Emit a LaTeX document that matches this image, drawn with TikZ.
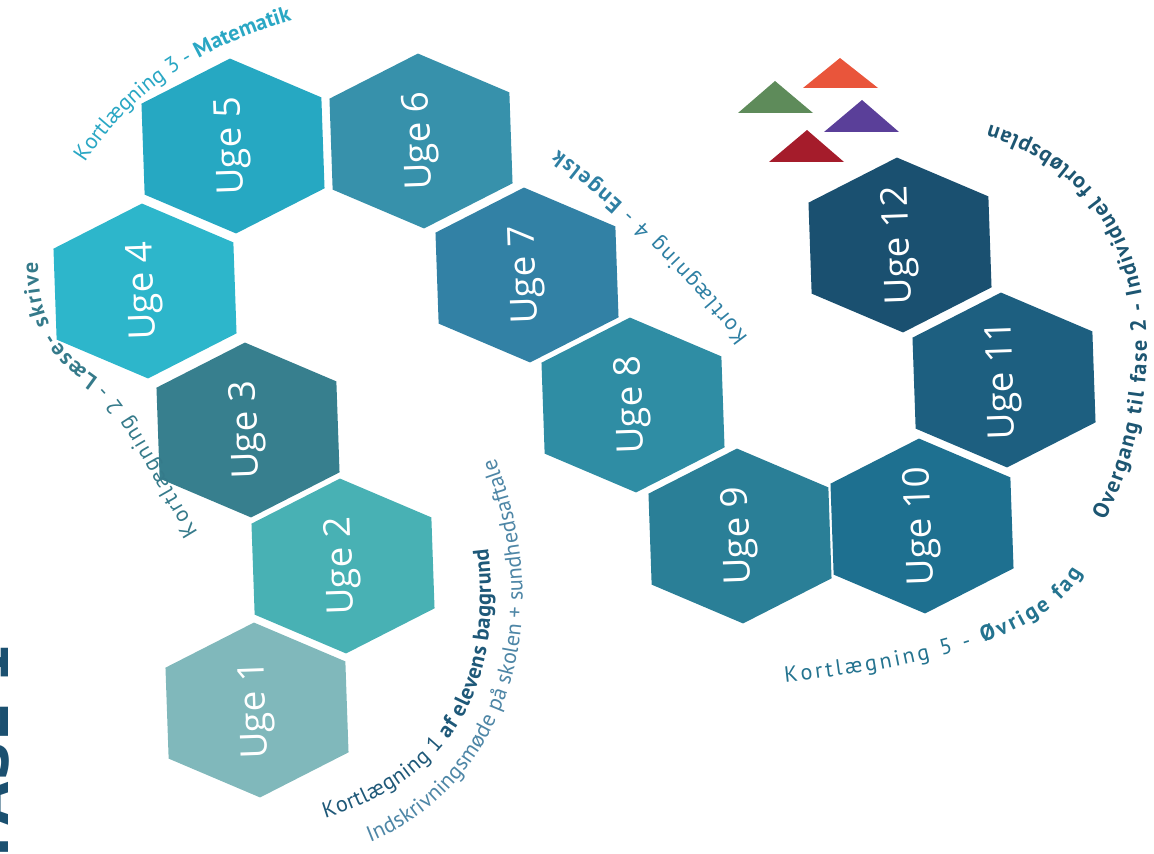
\documentclass[tikz,border=0pt]{standalone}
\usepackage{fontspec}
\setmainfont{Open Sans}
\newfontfamily\arcfont{PT Sans}
\newfontfamily\fasefont{DejaVu Sans}
\usetikzlibrary{decorations.text}

\definecolor{uge1}{HTML}{80B8BB}
\definecolor{uge2}{HTML}{48B1B4}
\definecolor{uge3}{HTML}{377F8E}
\definecolor{uge4}{HTML}{2DB6CB}
\definecolor{uge5}{HTML}{26A8C2}
\definecolor{uge6}{HTML}{3791AB}
\definecolor{uge7}{HTML}{3281A5}
\definecolor{uge8}{HTML}{2F8DA4}
\definecolor{uge9}{HTML}{2A7F97}
\definecolor{uge10}{HTML}{1E7090}
\definecolor{uge11}{HTML}{1D5F80}
\definecolor{uge12}{HTML}{1A5070}
\definecolor{trigreen}{HTML}{5E8B5A}
\definecolor{triorange}{HTML}{E9553B}
\definecolor{tripurple}{HTML}{5A3F99}
\definecolor{trired}{HTML}{A51C2B}
\definecolor{fasecolor}{HTML}{1B5070}
\definecolor{arcone}{HTML}{1E5878}
\definecolor{arconeb}{HTML}{4E86A6}
\definecolor{arctwo}{HTML}{357A8A}
\definecolor{arcthree}{HTML}{2AA7C4}
\definecolor{arcfour}{HTML}{2E7FA3}
\definecolor{arcfive}{HTML}{24738F}
\definecolor{arcsix}{HTML}{1D5672}

\tikzset{
  weektext/.style={rotate=92, text=white, inner sep=0pt, font=\fontsize{10.5}{12}\selectfont},
  arctext/.style={decorate, decoration={text along path, text align={fit to path}, text color=#1}},
  fasetext/.style={rotate=90, anchor=base west, inner sep=0pt, text=fasecolor, font=\fasefont\bfseries\fontsize{16}{18}\selectfont}
}

\begin{document}
\begin{tikzpicture}[x=0.1mm, y=-0.1mm]
    \useasboundingbox (0,0) rectangle (1154,854);
    \clip (0,0) rectangle (1154,854);
    \foreach \n/\x/\y in {1/257/710, 2/343/566, 3/248/430, 4/145/291, 5/233/146, 6/421/141,
                          7/527/275, 8/633/405, 9/740/536, 10/922/526, 11/1004/380, 12/900/245} {
        \fill[uge\n, shift={(\x,\y)}, rotate=2] (0,-87.5) -- (90,-45.5) -- (90,45.5) -- (0,87.5) -- (-90,45.5) -- (-90,-45.5) -- cycle;
        \node[weektext] (uge\n) at (\x,\y) {Uge \n};
    }
    \fill[trigreen] (775,81) -- (738,113) -- (813,113) -- cycle;
    \fill[triorange] (840,58) -- (803,88) -- (878,88) -- cycle;
    \fill[tripurple] (862,100) -- (824,132) -- (899,132) -- cycle;
    \fill[trired] (807,130) -- (769,162) -- (844,162) -- cycle;
    \node[fasetext] (fase) at (8,858) {FASE 1};
    \path[arctext=arcone, decoration={text={|\arcfont\fontsize{6.3}{7}\selectfont|Kortlægning 1 |\arcfont\bfseries\fontsize{6.3}{7}\selectfont|af elevens baggrund}}]
        (325,818) .. controls (450,780) and (505,690) .. (488,548);
    \path[arctext=arconeb, decoration={text={|\arcfont\fontsize{6.3}{7}\selectfont|Indskrivningsmøde på skolen + sundhedsaftale}}]
        (370,842) .. controls (480,800) and (570,650) .. (495,458);
    \path[arctext=arctwo, decoration={text={|\arcfont\fontsize{6.3}{7}\selectfont|Kortlægning 2 - |\arcfont\bfseries\fontsize{6.3}{7}\selectfont|Læse- skrive}}]
        (198,532) .. controls (160,470) and (128,402) .. (98,378) .. controls (58,350) and (38,322) .. (38,262);
    \path[arctext=arcthree, decoration={text={|\arcfont\fontsize{6.3}{7}\selectfont|Kortlægning 3 - |\arcfont\bfseries\fontsize{6.3}{7}\selectfont|Matematik}}]
        (85,163) .. controls (136,84) and (208,46) .. (287,22);
    \path[arctext=arcfour, decoration={text={|\arcfont\fontsize{6.3}{7}\selectfont|Kortlægning 4 - |\arcfont\bfseries\fontsize{6.3}{7}\selectfont|Engelsk}}]
        (748,338) .. controls (696,268) and (621,196) .. (558,150);
    \path[arctext=arcfive, decoration={text={|\arcfont\fontsize{6.3}{7}\selectfont|Kortlægning 5 - |\arcfont\bfseries\fontsize{6.3}{7}\selectfont|Øvrige fag}}]
        (785,682) .. controls (880,672) and (1040,650) .. (1082,572);
    \path[arctext=arcsix, decoration={text={|\arcfont\bfseries\fontsize{6.3}{7}\selectfont|Overgang til fase 2 - Individuel forløbsplan}}]
        (1105,520) .. controls (1175,380) and (1170,180) .. (990,125);
\end{tikzpicture}
\end{document}
